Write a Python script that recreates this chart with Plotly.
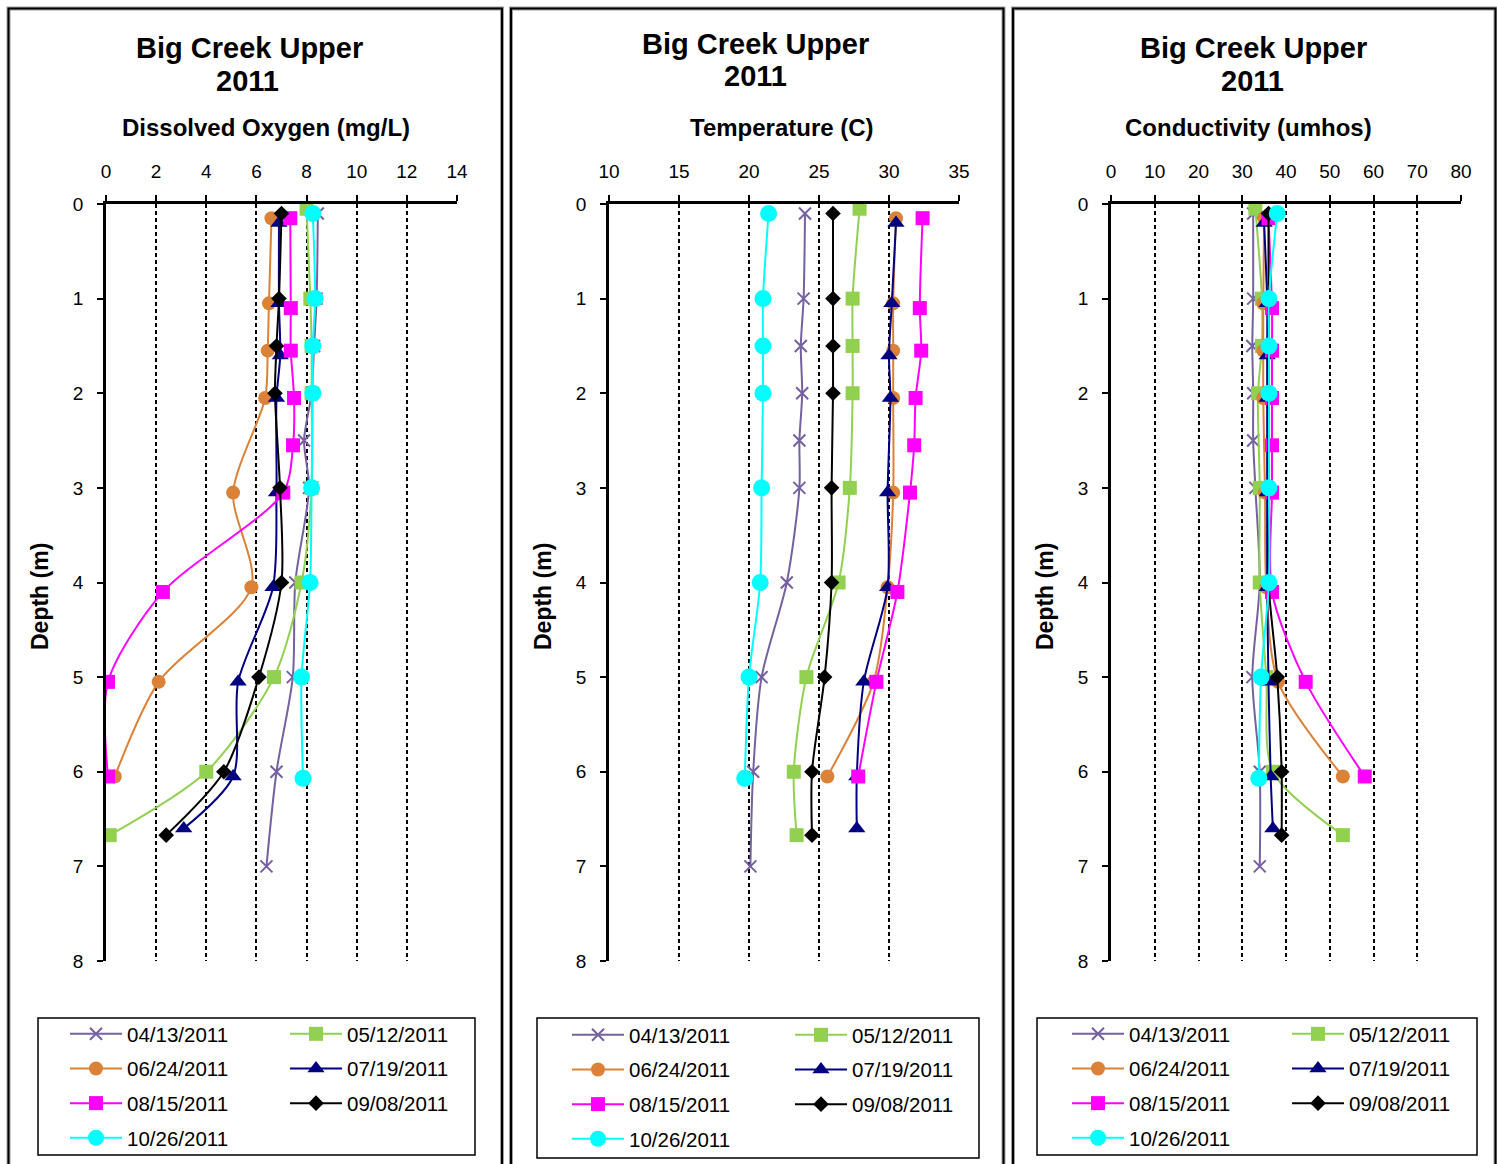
import plotly.graph_objects as go

W, H = 1497, 1164

dates = ["04/13/2011", "05/12/2011", "06/24/2011", "07/19/2011",
         "08/15/2011", "09/08/2011", "10/26/2011"]

depth_0413 = [0.1, 1.0, 1.5, 2.0, 2.5, 3.0, 4.0, 5.0, 6.0, 7.0]
depth_0512 = [0.05, 1.0, 1.5, 2.0, 3.0, 4.0, 5.0, 6.0, 6.67]
depth_0624 = [0.15, 1.05, 1.55, 2.05, 3.05, 4.05, 5.05, 6.05]
depth_0719 = [0.2, 1.05, 1.6, 2.05, 3.05, 4.05, 5.05, 6.05, 6.6]
depth_0815 = [0.15, 1.1, 1.55, 2.05, 2.55, 3.05, 4.1, 5.05, 6.05]
depth_0908 = [0.1, 1.0, 1.5, 2.0, 3.0, 4.0, 5.0, 6.0, 6.67]
depth_1026 = [0.1, 1.0, 1.5, 2.0, 3.0, 4.0, 5.0, 6.07]

do_0413 = [8.45, 8.4, 8.3, 8.2, 7.9, 8.1, 7.55, 7.45, 6.8, 6.4]
do_0512 = [8.0, 8.15, 8.2, 8.2, 8.2, 7.8, 6.7, 4.0, 0.15]
do_0624 = [6.6, 6.5, 6.45, 6.35, 5.07, 5.8, 2.1, 0.35]
do_0719 = [6.9, 6.9, 6.95, 6.8, 6.8, 6.66, 5.27, 5.07, 3.1]
do_0815 = [7.35, 7.37, 7.37, 7.5, 7.46, 7.07, 2.27, 0.08, 0.08]
do_0908 = [7.0, 6.9, 6.8, 6.74, 6.94, 7.0, 6.1, 4.7, 2.4]
do_1026 = [8.25, 8.34, 8.25, 8.25, 8.2, 8.14, 7.8, 7.86]

temp_0413 = [24.0, 23.9, 23.7, 23.8, 23.6, 23.6, 22.7, 20.9, 20.3, 20.1]
temp_0512 = [27.9, 27.4, 27.4, 27.4, 27.2, 26.4, 24.1, 23.2, 23.4]
temp_0624 = [30.5, 30.3, 30.3, 30.3, 30.3, 29.9, 28.9, 25.6]
temp_0719 = [30.5, 30.2, 30.0, 30.1, 29.9, 29.9, 28.2, 27.7, 27.7]
temp_0815 = [32.4, 32.2, 32.3, 31.9, 31.8, 31.5, 30.6, 29.1, 27.8]
temp_0908 = [26.0, 26.0, 26.0, 26.0, 25.9, 25.9, 25.4, 24.5, 24.5]
temp_1026 = [21.4, 21.0, 21.0, 21.0, 20.9, 20.8, 20.0, 19.7]

cond_0413 = [32.5, 32.5, 32.3, 32.5, 32.5, 33.0, 34.0, 32.3, 34.0, 34.0]
cond_0512 = [33.0, 34.5, 34.5, 33.6, 34.0, 34.0, 35.5, 37.0, 53.0]
cond_0624 = [35.0, 34.8, 34.8, 34.8, 35.2, 35.5, 38.2, 53.0]
cond_0719 = [35.0, 35.7, 35.7, 35.7, 35.7, 35.7, 36.0, 36.5, 37.0]
cond_0815 = [36.0, 36.8, 36.8, 36.8, 36.8, 36.8, 36.8, 44.5, 58.0]
cond_0908 = [36.0, 36.0, 36.0, 36.0, 36.0, 36.0, 38.0, 39.0, 39.0]
cond_1026 = [38.0, 36.1, 36.1, 36.1, 36.1, 36.1, 34.3, 33.8]

depths = [depth_0413, depth_0512, depth_0624, depth_0719, depth_0815, depth_0908, depth_1026]
do_vals = [do_0413, do_0512, do_0624, do_0719, do_0815, do_0908, do_1026]
temp_vals = [temp_0413, temp_0512, temp_0624, temp_0719, temp_0815, temp_0908, temp_1026]
cond_vals = [cond_0413, cond_0512, cond_0624, cond_0719, cond_0815, cond_0908, cond_1026]

panel_title = "Big Creek Upper"
panel_year = "2011"
measures = ["Dissolved Oxygen (mg/L)", "Temperature (C)", "Conductivity (umhos)"]
x_ranges = [[0, 14], [10, 35], [0, 80]]
x_dticks = [2, 5, 10]
y_label = "Depth (m)"

# ---- styles ----
colors = ["#7560A0", "#92D050", "#DC8238", "#000080", "#FF00FF", "#000000", "#00FFFF"]
symbols = ["x-thin-open", "square", "circle", "triangle-up", "square", "diamond", "circle"]
sizes = [12, 14, 14, 15, 14, 12, 17]
FONT = "Liberation Sans, Arial, sans-serif"

plot_px = [(106, 457), (609, 959), (1111, 1461)]
y_top_px, y_bot_px = 204, 961


def px(x):
    return x / W


def py(y):
    return 1 - y / H


fig = go.Figure()

legend_ids = [("legend", "legend2"), ("legend3", "legend4"), ("legend5", "legend6")]
data_sets = [do_vals, temp_vals, cond_vals]

for p in range(3):
    xa = "x" if p == 0 else f"x{p+1}"
    ya = "y" if p == 0 else f"y{p+1}"
    for i, d in enumerate(dates):
        is_x = symbols[i] == "x-thin-open"
        fig.add_trace(go.Scatter(
            x=data_sets[p][i], y=depths[i], name=d,
            xaxis=xa, yaxis=ya,
            mode="lines+markers",
            line=dict(color=colors[i], width=2, shape="spline", smoothing=0.8),
            marker=dict(symbol=symbols[i], size=sizes[i], color=colors[i],
                        line=dict(width=2 if is_x else 0, color=colors[i])),
            legend=legend_ids[p][0] if i % 2 == 0 else legend_ids[p][1],
            legendgroup=f"p{p}-{i}",
            showlegend=True,
        ))

layout = dict(
    width=W, height=H, autosize=False,
    margin=dict(l=0, r=0, t=0, b=0, pad=0, autoexpand=False),
    paper_bgcolor="white", plot_bgcolor="white",
    font=dict(family=FONT, color="black"),
    showlegend=True,
)

for p in range(3):
    sfx = "" if p == 0 else str(p + 1)
    x0, x1 = plot_px[p]
    layout["xaxis" + sfx] = dict(
        domain=[px(x0), px(x1)], range=x_ranges[p], dtick=x_dticks[p], tick0=x_ranges[p][0],
        side="top", anchor="y" + sfx, automargin=False,
        showline=True, linecolor="black", linewidth=2.5,
        ticks="outside", ticklen=6, tickwidth=1.5, tickcolor="black",
        showgrid=True, gridcolor="black", gridwidth=1.5, griddash="4px,3px",
        zeroline=False, tickfont=dict(size=19, family=FONT, color="black"),
        ticklabelstandoff=10, fixedrange=True,
    )
    layout["yaxis" + sfx] = dict(
        domain=[py(y_bot_px), py(y_top_px)], range=[8, 0], dtick=1,
        anchor="x" + sfx, automargin=False,
        showline=True, linecolor="black", linewidth=2.5,
        ticks="outside", ticklen=6, tickwidth=1.5, tickcolor="black",
        showgrid=False, zeroline=False,
        tickfont=dict(size=19, family=FONT, color="black"),
        ticklabelstandoff=10, fixedrange=True,
    )

# legends (two columns per panel)
leg_cols = [(65, 285), (567, 790), (1067, 1287)]
leg_top = [1014, 1015, 1014]
for p in range(3):
    for c in range(2):
        lid = legend_ids[p][c]
        layout[lid] = dict(
            x=px(leg_cols[p][c]), y=py(leg_top[p]), xanchor="left", yanchor="top",
            orientation="v", bgcolor="rgba(0,0,0,0)", borderwidth=0,
            font=dict(size=20.5, family=FONT, color="black"),
            itemwidth=52, tracegroupgap=5.0, traceorder="grouped",
            itemclick=False, itemdoubleclick=False,
        )

shapes = []
panel_boxes = [(8.5, 502), (511, 1003.5), (1013, 1495.5)]
for (a, b) in panel_boxes:
    shapes.append(dict(type="rect", xref="paper", yref="paper",
                       x0=px(a), x1=px(b), y0=py(1175), y1=py(8.5),
                       line=dict(color="#A0A0A0", width=4), layer="below"))
    shapes.append(dict(type="rect", xref="paper", yref="paper",
                       x0=px(a), x1=px(b), y0=py(1175), y1=py(8.5),
                       line=dict(color="black", width=2), layer="below"))
legend_boxes = [(38, 475, 1018, 1155), (537, 979, 1018, 1158), (1037, 1477, 1018, 1155)]
for (a, b, t, u) in legend_boxes:
    shapes.append(dict(type="rect", xref="paper", yref="paper",
                       x0=px(a), x1=px(b), y0=py(u), y1=py(t),
                       line=dict(color="black", width=1.5)))
layout["shapes"] = shapes

ann = []
title_pos = [((249, 48), (248, 81), (266, 127)),
             ((756, 44), (755, 76), (782, 127)),
             ((1253, 48), (1252, 81), (1248, 127))]
ylabel_x = [40, 543, 1045]
for p in range(3):
    (t1, t2, st) = title_pos[p]
    ann.append(dict(x=px(t1[0]), y=py(t1[1]), xref="paper", yref="paper",
                    text="<b>" + panel_title + "</b>", showarrow=False,
                    xanchor="center", yanchor="middle", font=dict(size=29, family=FONT)))
    ann.append(dict(x=px(t2[0]), y=py(t2[1]), xref="paper", yref="paper",
                    text="<b>" + panel_year + "</b>", showarrow=False,
                    xanchor="center", yanchor="middle", font=dict(size=29, family=FONT)))
    ann.append(dict(x=px(st[0]), y=py(st[1]), xref="paper", yref="paper",
                    text="<b>" + measures[p] + "</b>", showarrow=False,
                    xanchor="center", yanchor="middle", font=dict(size=24, family=FONT)))
    ann.append(dict(x=px(ylabel_x[p]), y=py(597), xref="paper", yref="paper",
                    text="<b>" + y_label + "</b>", showarrow=False, textangle=-90,
                    xanchor="center", yanchor="middle", font=dict(size=23, family=FONT)))
layout["annotations"] = ann

fig.update_layout(**layout)
fig.write_html(
    "out.html",
    config={"displayModeBar": False},
    post_script="document.body.style.margin='0';document.body.style.overflow='hidden';",
)
